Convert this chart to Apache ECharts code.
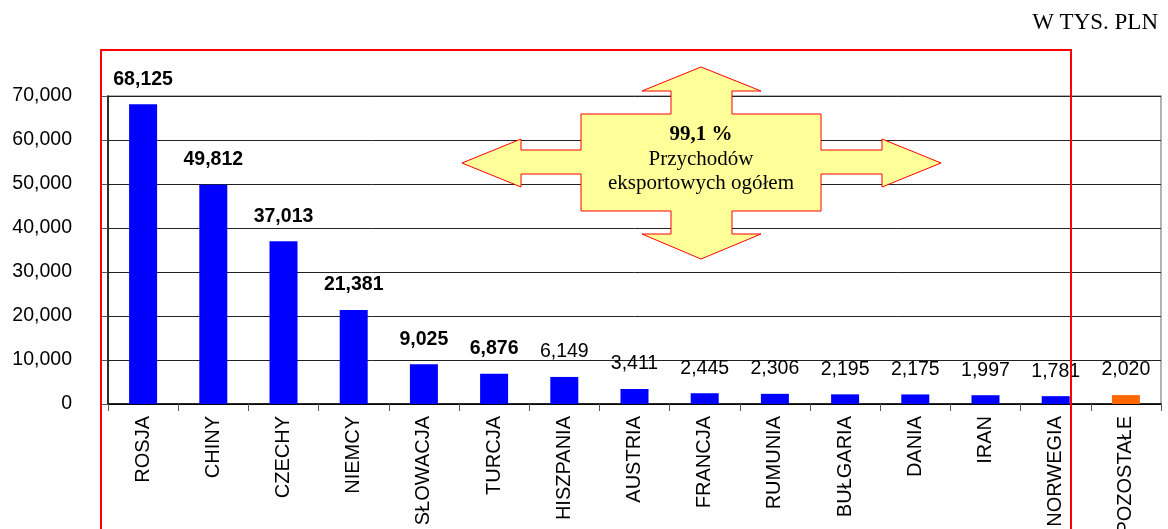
<!DOCTYPE html>
<html>
<head>
<meta charset="utf-8">
<script src="https://cdn.jsdelivr.net/npm/echarts@6/dist/echarts.min.js"></script>
<style>
html,body{margin:0;padding:0;background:#fff;}
#chart{width:1168px;height:529px;}
</style>
</head>
<body>
<div id="chart"></div>
<script>
const categories = ['ROSJA','CHINY','CZECHY','NIEMCY','SŁOWACJA','TURCJA','HISZPANIA','AUSTRIA','FRANCJA','RUMUNIA','BUŁGARIA','DANIA','IRAN','NORWEGIA','POZOSTAŁE'];
const values = [68125,49812,37013,21381,9025,6876,6149,3411,2445,2306,2195,2175,1997,1781,2020];
const yTicks = [0,10000,20000,30000,40000,50000,60000,70000];
const unitLabel = 'W TYS. PLN';
const calloutLines = ['99,1 %','Przychodów','eksportowych ogółem'];

const fmt = v => v.toLocaleString('en-US');
const boldCount = 6;
const data = values.map((v,i)=>({
  value: v,
  itemStyle: {color: categories[i]==='POZOSTAŁE' ? '#FF6600' : '#0000FF'},
  label: {fontWeight: i < boldCount ? 'bold' : 'normal'}
}));

const chart = echarts.init(document.getElementById('chart'));
const arrowPts = [[462,163],[521,139],[521,150],[581,150],[581,114],[671,114],[671,91],[642,91],[701,67],[761,91],[732,91],[732,114],[821,114],[821,150],[882,150],[882,139],[941,163],[882,187],[882,174],[821,174],[821,211],[732,211],[732,234],[761,234],[701,259],[642,234],[671,234],[671,211],[581,211],[581,174],[521,174],[521,187]];
chart.setOption({
  animation:false,
  grid:{left:108,right:7,top:96,bottom:125,show:true,borderColor:'#999',borderWidth:1.5,backgroundColor:'transparent',containLabel:false,outerBoundsMode:'none'},
  xAxis:{
    type:'category',data:categories,
    axisLine:{lineStyle:{color:'#000',width:1.5}},
    axisTick:{show:true,length:7,lineStyle:{color:'#555'}},
    axisLabel:{rotate:90,interval:0,margin:12,fontSize:20,fontFamily:'Liberation Sans, Arial',color:'#000'}
  },
  yAxis:{
    type:'value',min:yTicks[0],max:yTicks[yTicks.length-1],interval:yTicks[1]-yTicks[0],
    axisLine:{show:true,lineStyle:{color:'#000',width:1.5}},
    axisTick:{show:true,length:7,lineStyle:{color:'#555'}},
    axisLabel:{margin:36,fontSize:19.5,fontFamily:'Liberation Sans, Arial',color:'#000',formatter:fmt},
    splitLine:{show:true,lineStyle:{color:'#222',width:1}}
  },
  series:[{
    type:'bar',data:data,barWidth:28,
    label:{show:true,position:'top',distance:15,fontSize:19.5,fontFamily:'Liberation Sans, Arial',color:'#000',formatter:p=>fmt(p.value)}
  }],
  graphic:[
    {type:'text',right:10,top:11,z:100,style:{text:unitLabel,font:'23px "Liberation Serif", "Times New Roman", serif',fill:'#000'}},
    {type:'polygon',z:100,shape:{points:arrowPts},style:{fill:'#FFFF99',stroke:'#FF0000',lineWidth:1}},
    {type:'text',z:101,x:701,y:135,style:{text:calloutLines[0],font:'bold 21px "Liberation Serif", serif',fill:'#000',textAlign:'center',textVerticalAlign:'middle'}},
    {type:'text',z:101,x:701,y:159,style:{text:calloutLines[1],font:'21px "Liberation Serif", serif',fill:'#000',textAlign:'center',textVerticalAlign:'middle'}},
    {type:'text',z:101,x:701,y:183,style:{text:calloutLines[2],font:'21px "Liberation Serif", serif',fill:'#000',textAlign:'center',textVerticalAlign:'middle'}},
    {type:'rect',z:102,shape:{x:101,y:50,width:970,height:500},style:{fill:'none',stroke:'#FF0000',lineWidth:2}}
  ]
});
</script>
</body>
</html>
